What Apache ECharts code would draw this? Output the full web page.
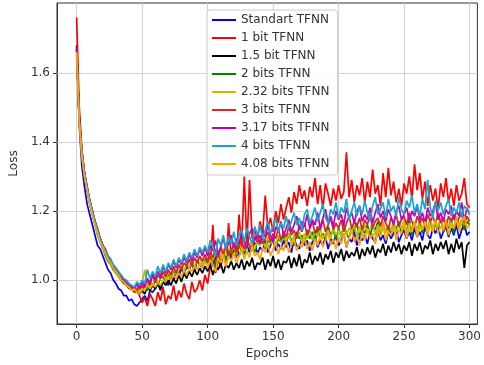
<!DOCTYPE html>
<html>
<head>
<meta charset="utf-8">
<script src="https://cdn.jsdelivr.net/npm/echarts@6/dist/echarts.min.js"></script>
<style>html,body{margin:0;padding:0;background:#fff;}#c{width:484px;height:365px;}</style>
</head>
<body>
<div id="c"></div>
<script>
// x positions: epochs 0..300, sampled every 2 epochs
const epochs = Array.from({length: 151}, (_, i) => i * 2);
const xTicks = [0, 50, 100, 150, 200, 250, 300];
const yTicks = [1.0, 1.2, 1.4, 1.6];
const seriesNames = ['Standart TFNN','1 bit TFNN','1.5 bit TFNN','2 bits TFNN','2.32 bits TFNN','3 bits TFNN','3.17 bits TFNN','4 bits TFNN','4.08 bits TFNN'];
const seriesColors = ['#0000ff','#ff0000','#000000','#008000','#bfbf00','#d62728','#bf00bf','#1aa6c8','#ffa500'];

const standart = [
1.68,1.45,1.33,1.27,1.22,1.19,1.16,1.13,1.10,1.09,
1.07,1.05,1.03,1.02,1.00,0.99,0.975,0.97,0.955,0.955,
0.94,0.945,0.93,0.925,0.935,0.945,0.955,0.94,0.97,0.965,
0.975,0.99,0.97,1.00,0.995,0.985,1.015,1.00,1.025,1.01,
1.035,1.015,1.04,1.03,1.05,1.025,1.055,1.045,1.035,1.06,
1.05,1.07,1.04,1.065,1.075,1.05,1.08,1.065,1.09,1.06,
1.085,1.10,1.07,1.09,1.075,1.105,1.08,1.095,1.11,1.075,
1.095,1.085,1.115,1.08,1.10,1.12,1.085,1.105,1.09,1.115,
1.095,1.11,1.08,1.12,1.10,1.09,1.125,1.10,1.115,1.085,
1.11,1.13,1.095,1.115,1.10,1.125,1.09,1.12,1.105,1.13,
1.10,1.115,1.135,1.095,1.12,1.11,1.14,1.10,1.125,1.115,
1.13,1.105,1.14,1.12,1.11,1.145,1.115,1.13,1.105,1.14,
1.12,1.135,1.15,1.11,1.13,1.145,1.12,1.14,1.115,1.15,
1.125,1.14,1.115,1.155,1.13,1.12,1.15,1.135,1.16,1.12,
1.14,1.155,1.125,1.15,1.13,1.16,1.12,1.145,1.165,1.13,
1.14];

const bit1 = [
1.76,1.50,1.38,1.31,1.26,1.23,1.20,1.17,1.15,1.12,
1.10,1.09,1.07,1.06,1.04,1.035,1.02,1.01,1.00,0.99,
0.985,0.975,0.965,0.97,0.955,0.935,0.95,0.925,0.96,0.945,
0.925,0.965,0.94,0.98,0.93,0.955,0.945,0.985,0.94,0.97,
0.95,0.99,0.96,0.945,0.995,0.965,0.975,1.00,0.97,1.015,
0.99,1.04,1.16,1.02,1.06,1.035,1.08,1.045,1.165,1.07,
1.10,1.065,1.19,1.09,1.30,1.10,1.29,1.12,1.15,1.11,
1.17,1.135,1.245,1.15,1.18,1.14,1.20,1.165,1.22,1.175,
1.21,1.24,1.195,1.255,1.22,1.275,1.235,1.26,1.215,1.27,
1.24,1.295,1.22,1.275,1.205,1.28,1.25,1.215,1.265,1.23,
1.275,1.235,1.255,1.37,1.24,1.29,1.225,1.275,1.245,1.295,
1.225,1.285,1.24,1.32,1.25,1.275,1.215,1.31,1.24,1.325,
1.245,1.285,1.225,1.265,1.215,1.28,1.25,1.30,1.235,1.335,
1.26,1.31,1.235,1.285,1.215,1.275,1.23,1.265,1.205,1.28,
1.24,1.295,1.225,1.265,1.215,1.275,1.23,1.25,1.295,1.22,
1.21];

const bit15 = [
1.67,1.47,1.37,1.31,1.27,1.23,1.20,1.17,1.14,1.12,
1.10,1.08,1.065,1.05,1.04,1.025,1.015,1.005,0.995,0.99,
0.98,0.975,0.97,0.965,0.96,0.97,0.96,0.98,0.97,0.985,
0.975,0.99,0.975,0.995,0.985,1.00,0.985,1.005,0.99,1.015,
0.995,1.02,1.005,1.025,1.01,1.03,1.015,1.035,1.02,1.04,
1.025,1.045,1.015,1.04,1.03,1.05,1.02,1.045,1.035,1.055,
1.03,1.05,1.035,1.06,1.03,1.055,1.04,1.065,1.03,1.05,
1.045,1.065,1.03,1.06,1.04,1.07,1.035,1.06,1.03,1.055,
1.05,1.07,1.035,1.065,1.04,1.075,1.035,1.06,1.05,1.08,
1.045,1.07,1.055,1.08,1.045,1.075,1.06,1.085,1.05,1.08,
1.065,1.09,1.055,1.085,1.065,1.08,1.07,1.095,1.06,1.09,
1.07,1.095,1.075,1.10,1.065,1.09,1.08,1.105,1.07,1.10,
1.08,1.11,1.085,1.105,1.075,1.10,1.085,1.11,1.07,1.105,
1.085,1.11,1.075,1.10,1.09,1.115,1.075,1.105,1.085,1.11,
1.09,1.115,1.075,1.105,1.08,1.12,1.09,1.11,1.035,1.10,
1.11];

const bits2 = [
1.67,1.46,1.36,1.30,1.26,1.22,1.19,1.16,1.13,1.11,
1.09,1.07,1.055,1.045,1.03,1.02,1.01,1.00,0.99,0.985,
0.975,0.98,0.97,0.965,0.975,0.965,0.985,0.97,0.995,0.98,
1.00,0.985,1.005,1.01,0.995,1.02,1.005,1.03,1.015,1.025,
1.04,1.02,1.045,1.035,1.055,1.03,1.06,1.045,1.05,1.065,
1.05,1.075,1.06,1.045,1.08,1.065,1.09,1.06,1.085,1.075,
1.095,1.07,1.10,1.085,1.075,1.11,1.09,1.10,1.08,1.115,
1.10,1.12,1.09,1.115,1.105,1.125,1.095,1.12,1.11,1.13,
1.105,1.135,1.115,1.10,1.14,1.12,1.13,1.105,1.145,1.12,
1.14,1.11,1.15,1.125,1.135,1.115,1.155,1.13,1.145,1.12,
1.15,1.125,1.16,1.135,1.12,1.155,1.14,1.165,1.125,1.15,
1.135,1.16,1.13,1.155,1.145,1.17,1.13,1.16,1.14,1.155,
1.13,1.165,1.145,1.17,1.135,1.16,1.14,1.175,1.13,1.16,
1.145,1.17,1.135,1.165,1.15,1.175,1.14,1.16,1.15,1.18,
1.14,1.165,1.15,1.18,1.135,1.17,1.155,1.175,1.145,1.17,
1.16];

const bits232 = [
1.66,1.45,1.36,1.30,1.26,1.22,1.19,1.16,1.135,1.11,
1.09,1.075,1.06,1.045,1.035,1.02,1.01,1.005,0.995,0.985,
0.98,0.975,0.97,0.98,0.965,0.99,1.03,0.985,1.00,0.985,
1.01,0.995,1.005,1.02,1.00,1.025,1.01,1.035,1.015,1.03,
1.045,1.025,1.05,1.035,1.06,1.04,1.055,1.065,1.045,1.07,
1.055,1.08,1.06,1.075,1.085,1.065,1.09,1.07,1.095,1.08,
1.10,1.075,1.105,1.09,1.085,1.11,1.095,1.115,1.09,1.12,
1.10,1.115,1.095,1.125,1.105,1.12,1.10,1.13,1.11,1.12,
1.115,1.135,1.105,1.13,1.12,1.14,1.11,1.135,1.12,1.145,
1.115,1.14,1.125,1.15,1.12,1.135,1.145,1.12,1.15,1.13,
1.145,1.125,1.155,1.13,1.15,1.14,1.16,1.125,1.155,1.135,
1.16,1.135,1.15,1.165,1.13,1.16,1.14,1.17,1.135,1.16,
1.145,1.17,1.14,1.16,1.15,1.175,1.135,1.165,1.15,1.17,
1.14,1.175,1.15,1.165,1.145,1.18,1.15,1.17,1.155,1.18,
1.145,1.175,1.155,1.17,1.15,1.185,1.155,1.175,1.16,1.18,
1.17];

const bits3 = [
1.67,1.46,1.37,1.31,1.27,1.23,1.20,1.17,1.14,1.12,
1.10,1.08,1.065,1.05,1.04,1.03,1.015,1.01,1.00,0.99,
0.985,0.975,0.98,0.97,0.99,0.975,0.995,1.00,0.985,1.015,
0.995,1.015,1.005,1.025,1.01,1.03,1.015,1.04,1.02,1.045,
1.03,1.05,1.04,1.06,1.04,1.065,1.05,1.07,1.055,1.075,
1.055,1.08,1.065,1.09,1.06,1.095,1.075,1.10,1.07,1.085,
1.105,1.08,1.10,1.115,1.09,1.12,1.10,1.085,1.125,1.11,
1.13,1.105,1.12,1.14,1.11,1.135,1.12,1.15,1.115,1.14,
1.125,1.155,1.13,1.145,1.12,1.16,1.14,1.165,1.13,1.15,
1.17,1.135,1.155,1.145,1.175,1.14,1.16,1.18,1.145,1.165,
1.15,1.175,1.14,1.165,1.185,1.15,1.17,1.155,1.18,1.145,
1.175,1.16,1.19,1.15,1.17,1.18,1.155,1.185,1.165,1.145,
1.18,1.165,1.19,1.155,1.175,1.185,1.16,1.195,1.17,1.15,
1.185,1.165,1.18,1.155,1.19,1.17,1.185,1.16,1.195,1.165,
1.18,1.15,1.185,1.17,1.19,1.16,1.18,1.195,1.165,1.185,
1.17];

const bits317 = [
1.67,1.46,1.37,1.31,1.26,1.23,1.195,1.165,1.14,1.115,
1.095,1.08,1.065,1.05,1.04,1.03,1.02,1.01,1.00,0.995,
0.985,0.98,0.975,0.99,0.975,0.995,0.98,1.005,0.99,1.02,
1.00,1.025,1.01,1.04,1.02,1.045,1.03,1.055,1.035,1.06,
1.045,1.065,1.05,1.075,1.055,1.08,1.065,1.09,1.07,1.095,
1.07,1.10,1.085,1.115,1.075,1.095,1.12,1.09,1.105,1.13,
1.095,1.12,1.105,1.14,1.11,1.095,1.135,1.15,1.115,1.13,
1.105,1.145,1.125,1.16,1.13,1.11,1.155,1.14,1.17,1.13,
1.15,1.175,1.14,1.16,1.185,1.145,1.17,1.155,1.19,1.15,
1.175,1.16,1.195,1.15,1.18,1.205,1.165,1.185,1.155,1.20,
1.175,1.19,1.16,1.21,1.18,1.195,1.165,1.20,1.215,1.17,
1.19,1.175,1.21,1.165,1.195,1.22,1.18,1.20,1.17,1.205,
1.185,1.16,1.20,1.215,1.175,1.19,1.21,1.17,1.20,1.185,
1.215,1.175,1.195,1.165,1.21,1.185,1.20,1.225,1.175,1.195,
1.17,1.205,1.19,1.215,1.175,1.20,1.185,1.225,1.17,1.21,
1.19];

const bits4 = [
1.65,1.46,1.37,1.31,1.27,1.23,1.20,1.17,1.145,1.12,
1.10,1.085,1.07,1.06,1.045,1.035,1.025,1.015,1.005,1.00,
0.99,0.985,0.98,0.995,0.985,1.00,0.99,1.03,1.005,1.025,
1.01,1.04,1.02,1.045,1.025,1.05,1.035,1.06,1.04,1.065,
1.05,1.075,1.055,1.08,1.065,1.09,1.07,1.095,1.08,1.10,
1.08,1.115,1.095,1.07,1.12,1.10,1.13,1.09,1.125,1.105,
1.14,1.10,1.13,1.145,1.11,1.15,1.125,1.105,1.155,1.13,
1.16,1.12,1.145,1.17,1.135,1.155,1.18,1.14,1.165,1.15,
1.185,1.15,1.17,1.195,1.16,1.18,1.145,1.19,1.205,1.165,
1.185,1.21,1.17,1.195,1.22,1.18,1.165,1.205,1.19,1.225,
1.18,1.21,1.195,1.235,1.175,1.20,1.225,1.185,1.215,1.19,
1.23,1.195,1.17,1.215,1.24,1.19,1.205,1.225,1.18,1.235,
1.20,1.215,1.185,1.24,1.205,1.19,1.23,1.21,1.245,1.195,
1.22,1.185,1.235,1.205,1.29,1.21,1.18,1.23,1.20,1.225,
1.19,1.215,1.235,1.185,1.21,1.195,1.225,1.18,1.215,1.205,
1.19];

const bits408 = [
1.66,1.46,1.36,1.30,1.26,1.22,1.19,1.16,1.135,1.11,
1.095,1.075,1.06,1.05,1.035,1.025,1.015,1.00,0.995,0.985,
0.98,0.97,0.975,0.965,0.96,0.975,0.97,0.985,0.975,0.99,
0.98,0.995,0.985,1.00,0.995,1.01,1.00,1.015,1.005,1.02,
1.01,1.03,1.015,1.035,1.025,1.04,1.03,1.05,1.035,1.055,
1.035,1.06,1.045,1.025,1.065,1.05,1.075,1.04,1.07,1.055,
1.08,1.05,1.07,1.09,1.06,1.085,1.065,1.10,1.07,1.08,
1.06,1.095,1.08,1.105,1.07,1.09,1.11,1.075,1.10,1.085,
1.115,1.08,1.10,1.12,1.085,1.105,1.095,1.125,1.09,1.11,
1.085,1.12,1.10,1.13,1.095,1.115,1.14,1.10,1.12,1.09,
1.125,1.105,1.135,1.095,1.12,1.145,1.11,1.13,1.10,1.14,
1.115,1.15,1.12,1.135,1.105,1.145,1.125,1.16,1.115,1.14,
1.13,1.155,1.115,1.145,1.135,1.165,1.12,1.15,1.14,1.17,
1.125,1.155,1.145,1.17,1.13,1.16,1.14,1.175,1.135,1.155,
1.145,1.175,1.13,1.16,1.15,1.18,1.14,1.165,1.185,1.15,
1.16];

const seriesValues = [standart, bit1, bit15, bits2, bits232, bits3, bits317, bits4, bits408];

const font = 'DejaVu Sans';
const gridColor = '#d3d3d3';
const chart = echarts.init(document.getElementById('c'), null, {renderer: 'canvas'});
const lineSeries = seriesNames.map((name, k) => ({
  name: name, type: 'line', symbol: 'none', showSymbol: false, z: 3,
  color: seriesColors[k],
  lineStyle: {width: 1.7, color: seriesColors[k]},
  data: epochs.map((e, i) => [e, seriesValues[k][i]])
}));
const gridSeries = {
  name: '_grid', type: 'line', data: [], silent: true, z: 1,
  markLine: {
    silent: true, symbol: ['none', 'none'], animation: false, z: 1,
    label: {show: false},
    lineStyle: {color: gridColor, width: 1, type: 'solid'},
    data: xTicks.map(v => ({xAxis: v})).concat(yTicks.map(v => ({yAxis: v})))
  }
};
chart.setOption({
  animation: false,
  backgroundColor: '#ffffff',
  grid: {left: 57, right: 4, top: 3, bottom: 38, show: true, borderColor: '#333', borderWidth: 1, containLabel: false},
  legend: {
    orient: 'vertical', left: 207, top: 10, z: 20, zlevel: 1,
    padding: [3, 8, 4, 5], itemGap: 4, itemWidth: 24, itemHeight: 2, itemTextGap: 11,
    icon: 'rect',
    backgroundColor: 'rgba(255,255,255,0.88)', borderColor: '#cccccc', borderWidth: 1, borderRadius: 3,
    textStyle: {fontFamily: font, fontSize: 12, color: '#333', lineHeight: 14},
    data: seriesNames
  },
  xAxis: {
    type: 'value', min: -15, max: 306,
    name: 'Epochs', nameLocation: 'middle', nameGap: 24,
    nameTextStyle: {fontFamily: font, fontSize: 12, color: '#333', verticalAlign: 'top'},
    axisLine: {show: true, onZero: false, lineStyle: {color: '#333'}},
    axisTick: {show: true, length: 4, customValues: xTicks, lineStyle: {color: '#333'}},
    axisLabel: {customValues: xTicks, margin: 7, fontFamily: font, fontSize: 12, color: '#333'},
    splitLine: {show: false}
  },
  yAxis: {
    type: 'value', min: 0.873, max: 1.802,
    name: 'Loss', nameLocation: 'middle', nameGap: 33,
    nameTextStyle: {fontFamily: font, fontSize: 12, color: '#333'},
    axisLine: {show: true, onZero: false, lineStyle: {color: '#333'}},
    axisTick: {show: true, length: 4, customValues: yTicks, lineStyle: {color: '#333'}},
    axisLabel: {customValues: yTicks, margin: 7, fontFamily: font, fontSize: 12, color: '#333', formatter: v => v.toFixed(1)},
    splitLine: {show: false}
  },
  series: [gridSeries].concat(lineSeries)
});
</script>
</body>
</html>
